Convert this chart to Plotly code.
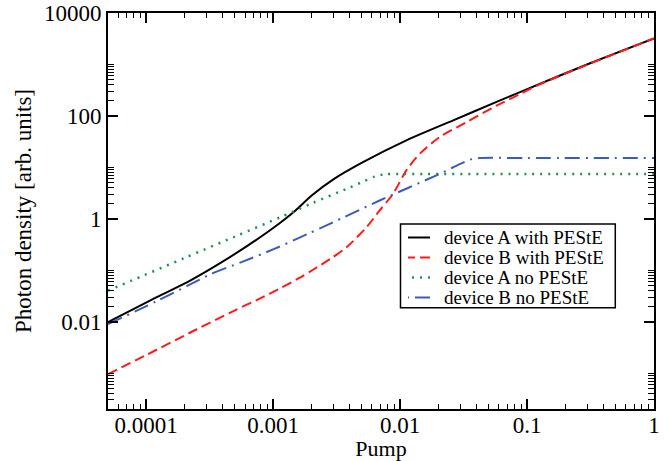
import plotly.graph_objects as go
import math

# ---- data ----
pump_a_with = [5e-5, 1.2e-4, 2.2e-4, 3.6e-4, 6.3e-4, 1.0e-3, 1.5e-3, 2.0e-3, 3.0e-3,
               5.1e-3, 0.0112, 0.0262, 0.0575, 0.088, 0.3, 1.0]
dens_a_with = [0.0098, 0.0295, 0.062, 0.125, 0.30, 0.66, 1.45, 2.8, 5.9,
               12.6, 33.4, 82, 187, 290, 1010, 3210]

pump_b_with = [5e-5, 1e-4, 2.5e-4, 5e-4, 7.9e-4, 1.12e-3, 1.58e-3, 2.06e-3, 2.82e-3, 3.78e-3,
               5.43e-3, 6.9e-3, 8.8e-3, 0.0112, 0.0143, 0.0206, 0.0334, 0.0575, 0.089,
               0.126, 0.3, 1.0]
dens_b_with = [9.5e-4, 0.00224, 0.0071, 0.0166, 0.0282, 0.0437, 0.069, 0.102, 0.166, 0.278,
               0.682, 1.45, 3.05, 8.7, 18.4, 38.9, 75.9, 158, 270,
               410, 995, 3210]

pump_a_no = [5e-5, 2e-4, 5e-4, 1.12e-3, 2.06e-3, 3.78e-3, 5.1e-3, 6.3e-3, 7.6e-3,
             0.01, 0.1, 1.0]
dens_a_no = [0.040, 0.172, 0.451, 1.05, 2.04, 3.8, 5.25, 6.6, 7.33,
             7.4, 7.4, 7.4]

pump_b_no = [5e-5, 1.23e-4, 2.12e-4, 3.24e-4, 5.57e-4, 1.02e-3, 1.87e-3, 2.79e-3, 6.9e-3,
             0.0206, 0.0295, 0.0355, 0.042, 0.1, 1.0]
dens_b_no = [0.0089, 0.0255, 0.050, 0.0843, 0.142, 0.259, 0.507, 0.794, 2.26,
             7.5, 11.5, 14.1, 15.1, 15.1, 15.1]

series_names = ["device A with PEStE", "device B with PEStE",
                "device A no PEStE", "device B no PEStE"]

x_tickvals = [1e-4, 1e-3, 1e-2, 1e-1, 1]
x_ticktext = ["0.0001", "0.001", "0.01", "0.1", "1"]
y_tickvals = [0.01, 1, 100, 10000]
y_ticktext = ["0.01", "1", "100", "10000"]

x_minor = [k * 10.0 ** e for e in range(-5, 0) for k in range(2, 10)]
y_minor = [k * 10.0 ** e for e in (-4, -2, 0, 2) for k in range(2, 11)]

FONT = "Liberation Serif"
styles = [
    dict(color="black", width=2, dash="solid"),
    dict(color="#ff1a1a", width=2, dash="10px,5px"),
    dict(color="#1f9150", width=2.5, dash="2px,6px"),
    dict(color="#3b5cb8", width=2, dash="15px,6px,2px,6px"),
]
data = [(pump_a_with, dens_a_with), (pump_b_with, dens_b_with),
        (pump_a_no, dens_a_no), (pump_b_no, dens_b_no)]

fig = go.Figure()
for (xs, ys), name, st in zip(data, series_names, styles):
    fig.add_trace(go.Scatter(x=xs, y=ys, mode="lines", name=name, showlegend=False,
                             line=dict(shape="spline", smoothing=0.8, **st)))

axis_common = dict(
    type="log", showgrid=False, zeroline=False, automargin=False,
    showline=True, linecolor="black", linewidth=2, mirror="allticks",
    ticks="inside", ticklen=10, tickwidth=1.5, tickcolor="black",
    tickfont=dict(family=FONT, size=23, color="black"),
)
fig.update_xaxes(
    **axis_common, range=[math.log10(5e-5), 0],
    tickmode="array", tickvals=x_tickvals, ticktext=x_ticktext, ticklabelstandoff=-6,
    minor=dict(tickmode="array", tickvals=x_minor, ticks="inside", ticklen=5,
               tickwidth=1, tickcolor="black", showgrid=False),
    title=dict(text="Pump", font=dict(family=FONT, size=22, color="black"), standoff=0),
)
fig.update_yaxes(
    **axis_common, range=[math.log10(2e-4), 4],
    tickmode="array", tickvals=y_tickvals, ticktext=y_ticktext,
    minor=dict(tickmode="array", tickvals=y_minor, ticks="inside", ticklen=6,
               tickwidth=1, tickcolor="black", showgrid=False),
    title=dict(text="Photon density [arb. units]",
               font=dict(family=FONT, size=23, color="black"), standoff=6),
)

# ---- legend box drawn as layout decoration ----
box_x0, box_x1, box_y0, box_y1 = 0.5357, 0.9291, 0.2558, 0.4672
sample_x0, sample_x1, text_x = 0.5495, 0.5897, 0.6112
row_y = [0.4331, 0.3826, 0.3321, 0.2816]
shapes = [dict(type="rect", xref="paper", yref="paper", x0=box_x0, x1=box_x1,
               y0=box_y0, y1=box_y1, line=dict(color="black", width=1.5),
               fillcolor="white", layer="above")]
annotations = []
for name, st, yy in zip(series_names, styles, row_y):
    shapes.append(dict(type="line", xref="paper", yref="paper", x0=sample_x1, x1=sample_x0,
                       y0=yy, y1=yy, line=dict(color=st["color"], width=st["width"],
                                               dash=st["dash"])))
    annotations.append(dict(xref="paper", yref="paper", x=text_x, y=yy, text=name,
                            showarrow=False, xanchor="left", yanchor="middle",
                            font=dict(family=FONT, size=19, color="black")))

fig.update_layout(
    template="none",
    width=671, height=461,
    margin=dict(l=108, r=17, t=13, b=52),
    paper_bgcolor="white", plot_bgcolor="white",
    showlegend=False, shapes=shapes, annotations=annotations,
)
fig.write_html("out.html", config={"displayModeBar": False},
               post_script="document.body.style.margin='0';document.body.style.overflow='hidden';")
